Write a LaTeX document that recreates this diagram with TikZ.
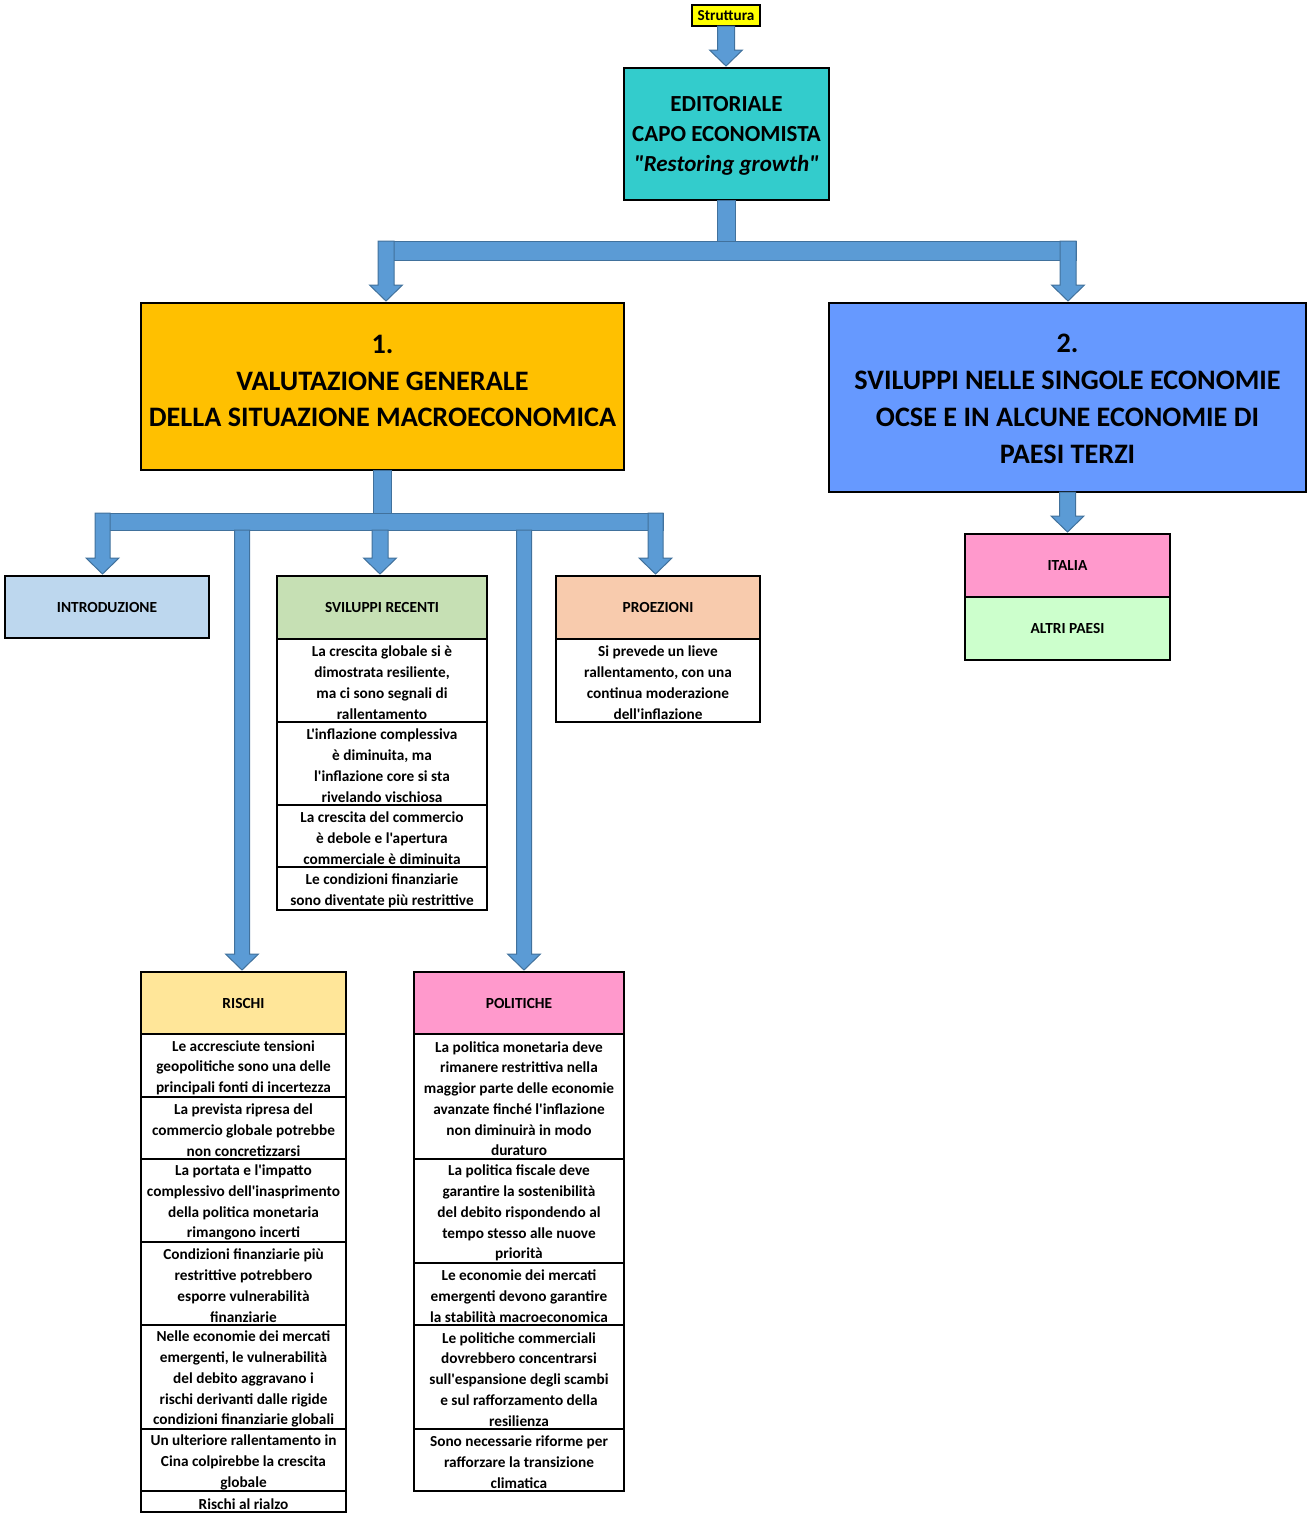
\documentclass[tikz,border=0pt]{standalone}
\usepackage{fontspec}
\setmainfont{Carlito}[Ligatures=TeXOff]
\usetikzlibrary{calc}

\definecolor{arrowfill}{HTML}{5B9BD5}
\definecolor{arrowline}{HTML}{41719C}
\definecolor{cYellow}{HTML}{FFFF00}
\definecolor{cTeal}{HTML}{33CCCC}
\definecolor{cGold}{HTML}{FFC000}
\definecolor{cBlue}{HTML}{6699FF}
\definecolor{cIntro}{HTML}{BDD7EE}
\definecolor{cRecent}{HTML}{C6E0B4}
\definecolor{cProj}{HTML}{F8CBAD}
\definecolor{cRisk}{HTML}{FFE699}
\definecolor{cPink}{HTML}{FF99CC}
\definecolor{cMint}{HTML}{CCFFCC}

% fat downward block arrow: start point, target node anchor, shaft half width
\newcommand\fatdown[3]{%
  \draw[flowarrow] let \p1=(#1), \p2=(#2) in
    (\x1-#3,\y1) -- (\x1+#3,\y1) -- (\x1+#3,\y2+18) -- (\x1+16.5,\y2+18)
    -- (\x1,\y2+2) -- (\x1-16.5,\y2+18) -- (\x1-#3,\y2+18) -- cycle;}
% plain vertical stem from a start point down to the level of a second point
\newcommand\stem[3]{%
  \draw[flowarrow] let \p1=(#1), \p2=(#2) in
    (\x1-#3,\y1) rectangle (\x1+#3,\y2);}
% fixed-size centred text block for table rows: width, height, text
\newcommand\cellbox[3]{\parbox[c][#2pt][c]{#1pt}{\vspace*{4.5pt}\centering #3\par}}

\tikzset{
  flowarrow/.style={fill=arrowfill, draw=arrowline, line width=1pt, line join=miter},
  bigbox/.style={draw=black, line width=1.6pt, inner sep=0pt, outer sep=0pt,
    anchor=north west},
  bigtext/.style={inner sep=0pt, align=center,
    font=\bfseries\fontsize{28.2}{36.6}\selectfont},
  hdr/.style={draw=black, line width=1.3pt, inner sep=0pt, outer sep=0pt,
    align=center, anchor=north west, font=\bfseries\fontsize{15.4}{18}\selectfont},
  cell/.style={draw=black, line width=1.3pt, fill=white, inner sep=0pt,
    outer sep=0pt, anchor=north west, font=\bfseries\fontsize{15.3}{20.75}\selectfont},
}

\begin{document}
\begin{tikzpicture}[x=1pt, y=-1pt]
\useasboundingbox (0,0) rectangle (1307,1513);

% ---- top level ----
\node[bigbox, fill=cYellow, line width=1.2pt, minimum width=68, minimum height=21,
  align=center, font=\bfseries\fontsize{15.2}{17}\selectfont] (struttura) at (692,5) {Struttura};

\node[bigbox, fill=cTeal, minimum width=205, minimum height=132] (editoriale) at (624,68) {};
\node[inner sep=0pt, align=center, font=\bfseries\fontsize{23}{30}\selectfont,
  yshift=-2pt] (editorialeT) at (editoriale.center)
  {EDITORIALE\\CAPO ECONOMISTA\\\textit{"Restoring growth"}};

\node[bigbox, fill=cGold, minimum width=483, minimum height=167] (valutazione) at (141,303) {};
\node[bigtext, yshift=5.5pt] (valutazioneT) at (valutazione.center)
  {1.\\VALUTAZIONE GENERALE\\DELLA SITUAZIONE MACROECONOMICA};

\node[bigbox, fill=cBlue, minimum width=477, minimum height=189] (economie) at (829,303) {};
\node[bigtext, font=\bfseries\fontsize{28.2}{37}\selectfont, yshift=-1pt]
  (economieT) at (economie.center)
  {2.\\SVILUPPI NELLE SINGOLE ECONOMIE\\OCSE E IN ALCUNE ECONOMIE DI\\PAESI TERZI};

% ---- country boxes ----
\node[hdr, fill=cPink, minimum width=205, minimum height=63] (italia) at (965,534) {ITALIA};
\node[hdr, fill=cMint, minimum width=205, minimum height=63] (altri) at (italia.south west) {ALTRI PAESI};

% ---- section 1 children ----
\node[hdr, fill=cIntro, minimum width=204, minimum height=62] (intro) at (5,576) {INTRODUZIONE};

\node[hdr, fill=cRecent, minimum width=210, minimum height=63] (recenti) at (277,576) {SVILUPPI RECENTI};
\node[cell] (rec1) at (recenti.south west) {\cellbox{210}{83}
  {La crescita globale si è\\dimostrata resiliente,\\ma ci sono segnali di\\rallentamento}};
\node[cell] (rec2) at (rec1.south west) {\cellbox{210}{83}
  {L'inflazione complessiva\\è diminuita, ma\\l'inflazione core si sta\\rivelando vischiosa}};
\node[cell] (rec3) at (rec2.south west) {\cellbox{210}{62}
  {La crescita del commercio\\è debole e l'apertura\\commerciale è diminuita}};
\node[cell] (rec4) at (rec3.south west) {\cellbox{210}{43}
  {Le condizioni finanziarie\\sono diventate più restrittive}};

\node[hdr, fill=cProj, minimum width=204, minimum height=63] (proiezioni) at (556,576) {PROEZIONI};
\node[cell] (proi1) at (proiezioni.south west) {\cellbox{204}{83}
  {Si prevede un lieve\\rallentamento, con una\\continua moderazione\\dell'inflazione}};

\node[hdr, fill=cRisk, minimum width=205, minimum height=62] (rischi) at (141,972) {RISCHI};
\node[cell] (ris1) at (rischi.south west) {\cellbox{205}{63}
  {Le accresciute tensioni\\geopolitiche sono una delle\\principali fonti di incertezza}};
\node[cell] (ris2) at (ris1.south west) {\cellbox{205}{62}
  {La prevista ripresa del\\commercio globale potrebbe\\non concretizzarsi}};
\node[cell] (ris3) at (ris2.south west) {\cellbox{205}{83}
  {La portata e l'impatto\\complessivo dell'inasprimento\\della politica monetaria\\rimangono incerti}};
\node[cell] (ris4) at (ris3.south west) {\cellbox{205}{83}
  {Condizioni finanziarie più\\restrittive potrebbero\\esporre vulnerabilità\\finanziarie}};
\node[cell] (ris5) at (ris4.south west) {\cellbox{205}{104}
  {Nelle economie dei mercati\\emergenti, le vulnerabilità\\del debito aggravano i\\rischi derivanti dalle rigide\\condizioni finanziarie globali}};
\node[cell] (ris6) at (ris5.south west) {\cellbox{205}{62}
  {Un ulteriore rallentamento in\\Cina colpirebbe la crescita\\globale}};
\node[cell] (ris7) at (ris6.south west) {\cellbox{205}{21}
  {Rischi al rialzo}};

\node[hdr, fill=cPink, minimum width=210, minimum height=62] (politiche) at (414,972) {POLITICHE};
\node[cell] (pol1) at (politiche.south west) {\cellbox{210}{125}
  {La politica monetaria deve\\rimanere restrittiva nella\\maggior parte delle economie\\avanzate finché l'inflazione\\non diminuirà in modo\\duraturo}};
\node[cell] (pol2) at (pol1.south west) {\cellbox{210}{104}
  {La politica fiscale deve\\garantire la sostenibilità\\del debito rispondendo al\\tempo stesso alle nuove\\priorità}};
\node[cell] (pol3) at (pol2.south west) {\cellbox{210}{62}
  {Le economie dei mercati\\emergenti devono garantire\\la stabilità macroeconomica}};
\node[cell] (pol4) at (pol3.south west) {\cellbox{210}{104}
  {Le politiche commerciali\\dovrebbero concentrarsi\\sull'espansione degli scambi\\e sul rafforzamento della\\resilienza}};
\node[cell] (pol5) at (pol4.south west) {\cellbox{210}{62}
  {Sono necessarie riforme per\\rafforzare la transizione\\climatica}};

% ---- connectors ----
\fatdown{struttura.south}{editoriale.north}{8.5}

% editoriale -> sections 1 and 2
\coordinate (busA) at (726,241);
\coordinate (armA1) at (386,241);
\coordinate (armA2) at (1068,241);
\stem{editoriale.south}{busA}{9}
\draw[flowarrow] (378,241) rectangle (1076,260);
\fatdown{armA1}{valutazione.north}{8}
\fatdown{armA2}{economie.north}{8}

% section 2 -> countries
\fatdown{economie.south}{italia.north}{8}

% section 1 -> its chapters
\coordinate (busB) at (381,513);
\coordinate (armB1) at (102.5,513);
\coordinate (armB2) at (242,530);
\coordinate (armB3) at (380,530);
\coordinate (armB4) at (524,530);
\coordinate (armB5) at (655.5,513);
\stem{valutazione.south}{busB}{9}
\draw[flowarrow] (95,513) rectangle (663,530);
\fatdown{armB1}{intro.north}{7.5}
\fatdown{armB2}{rischi.north}{7.5}
\fatdown{armB3}{recenti.north}{8}
\fatdown{armB4}{politiche.north}{7.5}
\fatdown{armB5}{proiezioni.north}{7.5}
\end{tikzpicture}
\end{document}
